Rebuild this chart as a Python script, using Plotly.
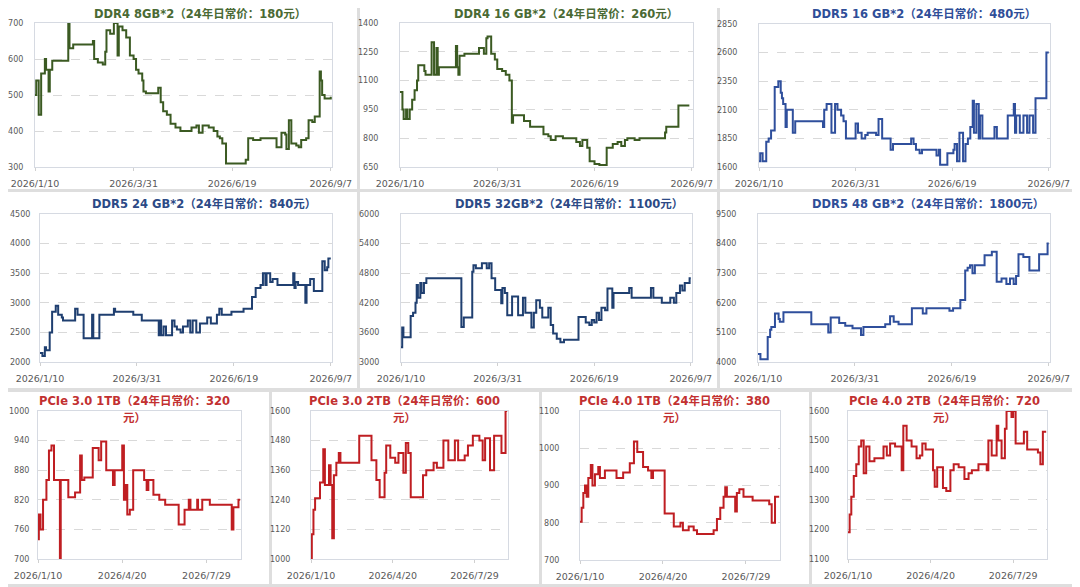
import pandas as pd
import plotly.graph_objects as go

# day offsets from 2026/1/10 and price readings (元), step changes only
start = pd.Timestamp("2026-01-10")

ddr4_8gb_day = [0, 1, 3, 5, 8, 9, 11, 12, 14, 27, 28, 31, 47, 48, 51, 55, 57, 58, 61, 64,
                67, 68, 71, 74, 77, 80, 82, 84, 87, 88, 90, 100, 102, 104, 107, 110, 114, 118, 127, 131,
                133, 136, 141, 145, 148, 150, 152, 155, 171, 173, 177, 183, 196, 200, 203, 204, 206, 208, 212, 214,
                216, 220, 222, 225, 227, 231, 232, 233, 235, 240]
ddr4_8gb_price = [500, 540, 445, 560, 600, 570, 510, 570, 595, 700, 630, 640, 650, 600, 590, 585, 620, 680, 670, 700,
                  610, 690, 680, 660, 610, 600, 570, 560, 540, 510, 505, 520, 480, 455, 445, 420, 410, 400, 410, 415,
                  395, 415, 410, 400, 385, 380, 365, 310, 320, 380, 375, 380, 355, 395, 390, 350, 430, 365, 360, 355,
                  375, 380, 430, 425, 440, 565, 540, 500, 490, 495]

ddr4_16gb_day = [0, 2, 3, 5, 6, 8, 10, 12, 14, 15, 20, 21, 26, 28, 30, 31, 32, 46, 47, 48,
                 49, 53, 65, 69, 71, 72, 75, 78, 80, 84, 87, 90, 92, 93, 102, 107, 118, 122, 124, 128,
                 134, 145, 148, 150, 154, 156, 160, 164, 170, 175, 179, 182, 185, 187, 193, 197, 218, 219, 229, 238]
ddr4_16gb_price = [1040, 950, 900, 950, 900, 950, 1000, 1050, 1100, 1180, 1150, 1130, 1300, 1130, 1270, 1130, 1170, 1280, 1170, 1130,
                   1230, 1240, 1270, 1240, 1320, 1330, 1240, 1210, 1160, 1150, 1130, 1100, 880, 920, 890, 860, 820, 810, 790, 810,
                   800, 780, 760, 790, 750, 680, 665, 660, 750, 770, 780, 760, 790, 800, 790, 800, 830, 860, 970, 970]

ddr5_16gb_day = [0, 1, 3, 6, 8, 10, 13, 16, 18, 19, 20, 22, 23, 28, 30, 53, 54, 56, 60, 63,
                 65, 68, 70, 72, 80, 82, 85, 88, 90, 97, 99, 102, 109, 111, 126, 128, 130, 133, 135, 147,
                 149, 150, 156, 161, 162, 164, 166, 169, 171, 173, 175, 177, 178, 180, 182, 183, 185, 195, 197, 206,
                 211, 212, 213, 216, 219, 222, 224, 227, 229, 238, 240]
ddr5_16gb_price = [1650, 1720, 1650, 1820, 1850, 1920, 2300, 2350, 2250, 2200, 2150, 1950, 2100, 1900, 2000, 1950, 2100, 2150, 1900, 2150,
                   2100, 2050, 2000, 1850, 1980, 1900, 1850, 1880, 1900, 1880, 2020, 1850, 1750, 1800, 1850, 1800, 1750, 1720, 1750, 1700,
                   1750, 1620, 1720, 1750, 1800, 1650, 1900, 1650, 1800, 1850, 1950, 2180, 1900, 2150, 1850, 2050, 1850, 1950, 1850, 2050,
                   2150, 1900, 2050, 1900, 2050, 1900, 2050, 1900, 2200, 2600, 2600]

ddr5_24gb_day = [0, 2, 4, 5, 8, 10, 13, 15, 18, 19, 29, 31, 36, 43, 44, 49, 61, 62, 77, 84,
                 98, 99, 100, 102, 104, 109, 111, 113, 116, 118, 122, 124, 126, 129, 132, 138, 141, 146, 148, 150,
                 158, 168, 175, 178, 182, 184, 186, 187, 190, 192, 196, 209, 210, 211, 213, 219, 220, 223, 226, 233,
                 235, 237, 238, 240]
ddr5_24gb_price = [2150, 2100, 2250, 2200, 2500, 2850, 2950, 2800, 2750, 2700, 2900, 2800, 2400, 2800, 2400, 2800, 2900, 2850, 2800, 2700,
                   2450, 2700, 2450, 2600, 2450, 2700, 2600, 2550, 2500, 2600, 2700, 2500, 2700, 2500, 2650, 2750, 2650, 2800, 2900, 2800,
                   2850, 2900, 3100, 3250, 3300, 3500, 3300, 3500, 3350, 3400, 3300, 3500, 3250, 3350, 3300, 3000, 3300, 3400, 3200, 3700,
                   3550, 3600, 3750, 3750]

ddr5_32gb_day = [0, 1, 2, 8, 10, 12, 13, 14, 16, 17, 19, 21, 50, 52, 59, 60, 62, 67, 71, 73,
                 75, 78, 83, 84, 86, 88, 92, 97, 101, 103, 108, 110, 112, 115, 117, 122, 124, 126, 129, 132,
                 135, 147, 153, 156, 158, 160, 162, 164, 166, 169, 171, 175, 176, 189, 191, 207, 209, 216, 223, 226,
                 228, 231, 233, 235, 239, 240]
ddr5_32gb_price = [3300, 3700, 3500, 3930, 4000, 4200, 4560, 4300, 4600, 4400, 4600, 4700, 3710, 3900, 4830, 4960, 4900, 5000, 4900, 5000,
                   4700, 4460, 4190, 4500, 4400, 3950, 4330, 3950, 4300, 4000, 3700, 4000, 4250, 4100, 3900, 4100, 3750, 3580, 3470, 3400,
                   3450, 3910, 3800, 3750, 3850, 3800, 4000, 3850, 4100, 4050, 4490, 4100, 4400, 4500, 4300, 4500, 4300, 4200, 4300, 4200,
                   4400, 4550, 4450, 4600, 4700, 4700]

ddr5_48gb_day = [0, 2, 8, 10, 11, 14, 17, 18, 21, 44, 58, 60, 67, 72, 78, 85, 87, 105, 109, 112,
                 116, 127, 136, 139, 158, 161, 167, 171, 173, 175, 177, 179, 187, 193, 197, 201, 205, 208, 211, 213,
                 215, 219, 224, 232, 239, 240]
ddr5_48gb_price = [4300, 4100, 4930, 5200, 5300, 5800, 5600, 5500, 5850, 5400, 5100, 5650, 5450, 5350, 5250, 5000, 5300, 5400, 5700, 5500,
                   5400, 6000, 5800, 6000, 5900, 6000, 6300, 7400, 7500, 7600, 7300, 7600, 7970, 8100, 6980, 7100, 6900, 7100, 6900, 7200,
                   8000, 7900, 7400, 8000, 8400, 8400]

pcie3_1tb_day = [0, 1, 3, 6, 10, 13, 16, 19, 26, 27, 36, 44, 50, 52, 55, 65, 72, 75, 81, 89,
                 91, 100, 102, 104, 106, 109, 113, 126, 129, 131, 137, 144, 151, 167, 174, 179, 181, 189, 190, 195,
                 204, 230, 232, 238, 240]
pcie3_1tb_price = [740, 790, 760, 820, 860, 920, 930, 860, 700, 860, 825, 835, 910, 860, 865, 925, 900, 938, 880, 850,
                   880, 930, 820, 850, 790, 800, 880, 860, 840, 860, 830, 820, 810, 770, 800, 820, 800, 820, 800, 820,
                   810, 760, 805, 820, 820]

pcie3_2tb_day = [0, 1, 3, 5, 11, 15, 17, 22, 24, 26, 28, 31, 34, 36, 59, 74, 80, 84, 90, 92,
                 97, 103, 107, 113, 116, 119, 122, 137, 141, 150, 154, 162, 168, 176, 180, 188, 192, 198, 206, 210,
                 213, 219, 224, 233, 238, 240]
pcie3_2tb_price = [1003, 1100, 1200, 1246, 1310, 1445, 1300, 1380, 1300, 1084, 1340, 1390, 1430, 1390, 1500, 1400, 1320, 1250, 1350, 1460,
                   1410, 1390, 1430, 1350, 1470, 1430, 1250, 1340, 1360, 1390, 1370, 1480, 1400, 1480, 1400, 1420, 1460, 1500, 1480, 1400,
                   1490, 1360, 1500, 1430, 1600, 1600]

pcie4_1tb_day = [0, 2, 4, 6, 8, 10, 13, 15, 18, 22, 24, 30, 44, 52, 60, 65, 69, 76, 82, 86,
                 88, 102, 113, 121, 124, 131, 137, 141, 161, 165, 169, 173, 175, 177, 187, 189, 192, 197, 208, 228,
                 231, 235, 240]
pcie4_1tb_price = [803, 840, 880, 900, 870, 920, 955, 900, 930, 950, 920, 940, 920, 935, 960, 1018, 990, 950, 940, 920,
                   940, 825, 790, 800, 780, 790, 780, 770, 780, 810, 840, 870, 895, 870, 830, 880, 890, 870, 860, 850,
                   800, 870, 870]

pcie4_2tb_day = [0, 2, 4, 7, 10, 13, 16, 19, 22, 26, 32, 43, 47, 51, 57, 65, 67, 71, 77, 83,
                 87, 90, 94, 103, 105, 108, 115, 119, 124, 128, 134, 141, 146, 150, 158, 168, 170, 174, 180, 182,
                 186, 190, 192, 198, 200, 203, 213, 217, 230, 233, 236, 240]
pcie4_2tb_price = [1190, 1250, 1310, 1380, 1420, 1480, 1500, 1390, 1480, 1430, 1440, 1480, 1450, 1490, 1480, 1400, 1550, 1500, 1480, 1440,
                   1450, 1490, 1470, 1400, 1344, 1410, 1340, 1330, 1400, 1420, 1410, 1370, 1390, 1400, 1420, 1400, 1500, 1450, 1550, 1500,
                   1440, 1540, 1600, 1580, 1600, 1490, 1530, 1470, 1460, 1420, 1530, 1530]

titles = [
    ["DDR4 8GB*2（24年日常价：180元）"],
    ["DDR4 16 GB*2（24年日常价：260元）"],
    ["DDR5 16 GB*2（24年日常价：480元）"],
    ["DDR5 24 GB*2（24年日常价：840元）"],
    ["DDR5 32GB*2（24年日常价：1100元）"],
    ["DDR5 48 GB*2（24年日常价：1800元）"],
    ["PCIe 3.0 1TB（24年日常价：320", "元）"],
    ["PCIe 3.0 2TB（24年日常价：600", "元）"],
    ["PCIe 4.0 1TB（24年日常价：380", "元）"],
    ["PCIe 4.0 2TB（24年日常价：720", "元）"],
]

y_ticks = [
    [300, 400, 500, 600, 700],
    [650, 800, 950, 1100, 1250, 1400],
    [1600, 1850, 2100, 2350, 2600, 2850],
    [2000, 2500, 3000, 3500, 4000, 4500],
    [3000, 3600, 4200, 4800, 5400, 6000],
    [4000, 5100, 6200, 7300, 8400, 9500],
    [700, 760, 820, 880, 940, 1000],
    [1000, 1120, 1240, 1360, 1480, 1600],
    [700, 800, 900, 1000, 1100],
    [1100, 1200, 1300, 1400, 1500, 1600],
]

ddr_date_ticks = ["2026/1/10", "2026/3/31", "2026/6/19", "2026/9/7"]
pcie_date_ticks = ["2026/1/10", "2026/4/20", "2026/7/29"]

series = [
    (ddr4_8gb_day, ddr4_8gb_price), (ddr4_16gb_day, ddr4_16gb_price), (ddr5_16gb_day, ddr5_16gb_price),
    (ddr5_24gb_day, ddr5_24gb_price), (ddr5_32gb_day, ddr5_32gb_price), (ddr5_48gb_day, ddr5_48gb_price),
    (pcie3_1tb_day, pcie3_1tb_price), (pcie3_2tb_day, pcie3_2tb_price),
    (pcie4_1tb_day, pcie4_1tb_price), (pcie4_2tb_day, pcie4_2tb_price),
]

# layout in page pixels: panel box, plot area, title centre x, title line ys, colours.
# the page body has an 8px margin, so the figure is 8px smaller and shifted.
OFF = 8
W, H = 1080 - OFF, 587 - OFF


def px(x):
    return max(0.0, min(1.0, (x - OFF) / W))


def py(y):
    return max(0.0, min(1.0, 1 - (y - OFF) / H))


green, green_t = "#3b5a22", "#4a6a34"
blue, blue_t = "#2f4f9c", "#2f4e98"
navy, navy_t = "#1f3f70", "#2c4a86"
red, red_t = "#bf1e22", "#c23030"
panels = [
    dict(box=(0, 0, 357, 189), plot=(35, 23, 332, 167), tx=200, ty=[14], c=green, tc=green_t, so=9),
    dict(box=(360, 0, 717, 189), plot=(400, 23, 693, 167), tx=566, ty=[14], c=green, tc=green_t, so=19),
    dict(box=(720, 0, 1078, 189), plot=(759, 24, 1050, 167), tx=924, ty=[14], c=blue, tc=blue_t, so=19),
    dict(box=(0, 192, 357, 388), plot=(40, 214, 332, 362), tx=204, ty=[204], c=navy, tc=navy_t, so=7),
    dict(box=(360, 192, 717, 388), plot=(401, 214, 692, 362), tx=569, ty=[204], c=navy, tc=navy_t, so=19),
    dict(box=(720, 192, 1078, 388), plot=(758, 214, 1050, 362), tx=928, ty=[204], c=blue, tc=blue_t, so=19),
    dict(box=(0, 392, 269, 584), plot=(38, 411, 241, 559), tx=134, ty=[401, 418], c=red, tc=red_t, so=6),
    dict(box=(272, 392, 539, 584), plot=(311, 411, 508, 559), tx=404, ty=[401, 418], c=red, tc=red_t, so=18),
    dict(box=(542, 392, 809, 584), plot=(580, 411, 780, 560), tx=674, ty=[401, 418], c=red, tc=red_t, so=18),
    dict(box=(812, 392, 1078, 584), plot=(848, 411, 1047, 559), tx=944, ty=[401, 418], c=red, tc=red_t, so=16),
]

font_family = "DejaVu Sans, Noto Sans CJK SC, sans-serif"
fig = go.Figure()
shapes, annotations = [], []
x_end = start + pd.Timedelta(days=241)

for i, (p, (days, prices)) in enumerate(zip(panels, series)):
    n = i + 1
    xid = "x" if n == 1 else f"x{n}"
    yid = "y" if n == 1 else f"y{n}"
    dates = start + pd.to_timedelta(days, unit="D")
    fig.add_trace(go.Scatter(x=dates, y=prices, mode="lines", xaxis=xid, yaxis=yid,
                             line=dict(color=p["c"], width=2, shape="hv"), showlegend=False,
                             hoverinfo="x+y"))

    l, t, r, b = p["plot"]
    labels = ddr_date_ticks if i < 6 else pcie_date_ticks
    yt = y_ticks[i]
    fig.layout[f"xaxis{'' if n == 1 else n}"] = dict(
        domain=[px(l), px(r)], anchor=yid, type="date", automargin=False,
        range=[start, x_end], tickvals=pd.to_datetime(labels), ticktext=labels,
        showgrid=False, showline=True, mirror=True, linecolor="#d6dae2", linewidth=1,
        ticks="outside", ticklen=3, tickcolor="#d0d0d0", ticklabelstandoff=5,
        tickfont=dict(size=9.5, color="#595959"), zeroline=False, fixedrange=True)
    fig.layout[f"yaxis{'' if n == 1 else n}"] = dict(
        domain=[py(b), py(t)], anchor=xid, automargin=False,
        range=[yt[0], yt[-1]], tickvals=yt, ticktext=[str(v) for v in yt],
        showgrid=True, gridcolor="#d9d9d9", griddash="dash", gridwidth=1,
        showline=True, mirror=True, linecolor="#d6dae2", linewidth=1,
        ticks="", ticklabelstandoff=p["so"], tickfont=dict(size=8, color="#595959"),
        zeroline=False, fixedrange=True)

    bl, bt, br, bb = p["box"]
    shapes.append(dict(type="rect", xref="paper", yref="paper", layer="below",
                       x0=px(bl), x1=px(br), y0=py(bb), y1=py(bt),
                       fillcolor="white", line=dict(width=0)))
    for line_text, ty in zip(titles[i], p["ty"]):
        annotations.append(dict(text=f"<b>{line_text}</b>", xref="paper", yref="paper",
                                x=px(p["tx"]), y=py(ty), xanchor="center", yanchor="middle",
                                showarrow=False, font=dict(size=11.5, color=p["tc"], family=font_family)))

fig.update_layout(
    width=W, height=H, margin=dict(l=0, r=0, t=0, b=0, autoexpand=False),
    paper_bgcolor="#dedede", plot_bgcolor="white",
    font=dict(family=font_family, color="#595959"),
    shapes=shapes, annotations=annotations, showlegend=False,
)

fig.write_html("out.html")
